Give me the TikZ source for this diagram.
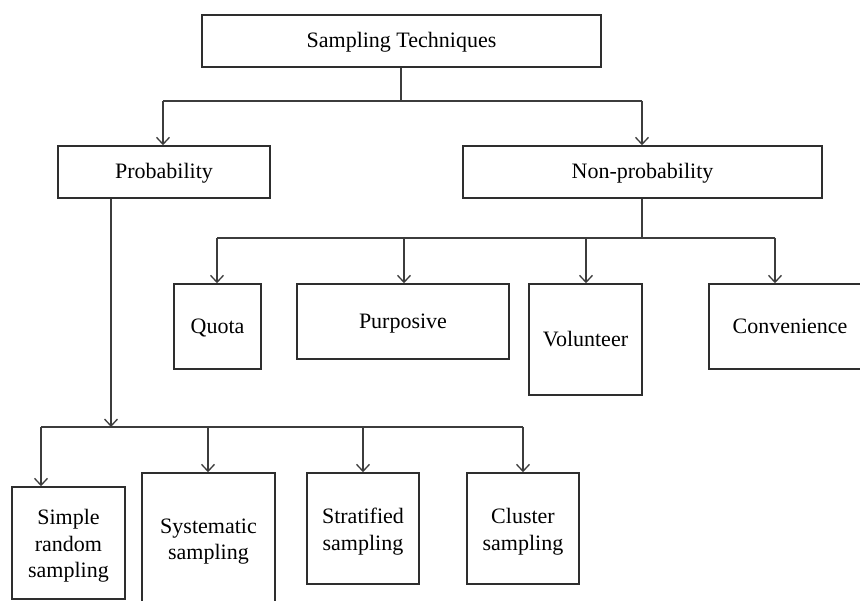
\documentclass[tikz,border=0pt]{standalone}
\usepackage{fontspec}
\setmainfont{Liberation Serif}
\usetikzlibrary{arrows.meta}
\definecolor{linegray}{HTML}{3C3C3C}
\definecolor{boxgray}{HTML}{2E2E2E}
% a taller first line lowers a block of several lines a little
\newcommand\tallfirst{\rule{0pt}{21.5pt}}
\tikzset{
  box/.style={draw=boxgray, line width=1.5pt, fill=white, inner sep=0pt,
    align=center, font=\fontsize{22}{26.5}\selectfont},
  % one line of text: fixed text extent so every label sits at the same height
  oneline/.style={box, text height=19pt, text depth=5pt},
  multiline/.style={box},
  link/.style={draw=linegray, line width=1.3pt},
  arr/.style={link, -{Straight Barb[length=7pt,width=13pt]}},
}
\begin{document}
\begin{tikzpicture}[x=1pt,y=-1pt]
\clip (0,0) rectangle (860,601);
\fill[white] (0,0) rectangle (860,601);

% root and first level
\node[oneline, minimum width=399pt, minimum height=52pt] (root) at (401.5,41) {Sampling Techniques};
\node[oneline, minimum width=212pt, minimum height=52pt] (prob) at (164,172) {Probability};
\node[oneline, minimum width=359pt, minimum height=52pt] (nonprob) at (642.5,172) {Non-probability};

% non-probability methods
\node[oneline, minimum width=87pt, minimum height=85pt] (quota) at (217.5,326.5) {Quota};
\node[oneline, minimum width=212pt, minimum height=75pt] (purp) at (403,321.5) {Purposive};
\node[oneline, minimum width=113pt, minimum height=111pt] (vol) at (585.5,339.5) {Volunteer};
\node[oneline, minimum width=162pt, minimum height=85pt] (conv) at (790,326.5) {Convenience};

% probability methods
\node[multiline, minimum width=113pt, minimum height=112pt] (srs) at (68.5,543) {\tallfirst Simple\\random\\sampling};
\node[multiline, minimum width=133pt, minimum height=130pt] (sys) at (208.5,538) {\tallfirst Systematic\\sampling};
\node[multiline, minimum width=112pt, minimum height=111pt] (strat) at (363,528.5) {\tallfirst Stratified\\sampling};
\node[multiline, minimum width=112pt, minimum height=111pt] (clus) at (523,528.5) {\tallfirst Cluster\\sampling};

% junction points of the buses
\coordinate (rootbus) at (401,101);
\coordinate (busA) at (163,101);
\coordinate (busB) at (642,101);
\coordinate (npbus) at (642,238);
\coordinate (np1) at (217,238);
\coordinate (np2) at (404,238);
\coordinate (np3) at (586,238);
\coordinate (np4) at (775,238);
\coordinate (pbus) at (111,427);
\coordinate (p1) at (41,427);
\coordinate (p2) at (208,427);
\coordinate (p3) at (363,427);
\coordinate (p4) at (523,427);

% root to first level
\draw[link] (root.south -| rootbus) -- (rootbus);
\draw[link] (busA) -- (busB);
\draw[arr] (busA) -- (busA |- prob.north);
\draw[arr] (busB) -- (busB |- nonprob.north);

% non-probability branch
\draw[link] (nonprob.south -| npbus) -- (npbus);
\draw[link] (np1) -- (np4);
\draw[arr] (np1) -- (np1 |- quota.north);
\draw[arr] (np2) -- (np2 |- purp.north);
\draw[arr] (np3) -- (np3 |- vol.north);
\draw[arr] (np4) -- (np4 |- conv.north);

% probability branch
\draw[arr] (prob.south -| pbus) -- (pbus);
\draw[link] (p1) -- (p4);
\draw[arr] (p1) -- (p1 |- srs.north);
\draw[arr] (p2) -- (p2 |- sys.north);
\draw[arr] (p3) -- (p3 |- strat.north);
\draw[arr] (p4) -- (p4 |- clus.north);
\end{tikzpicture}
\end{document}
